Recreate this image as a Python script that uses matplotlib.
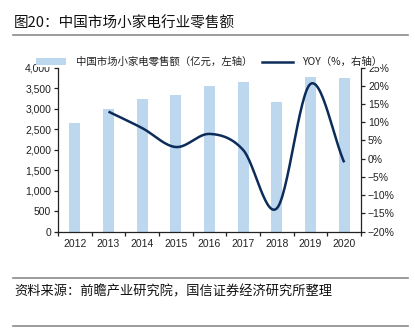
import matplotlib
matplotlib.use("Agg")
import matplotlib.pyplot as plt
import numpy as np
from matplotlib.lines import Line2D
from matplotlib.patches import Patch

years = ["2012", "2013", "2014", "2015", "2016", "2017", "2018", "2019", "2020"]
sales = [2640, 2980, 3230, 3330, 3550, 3640, 3150, 3780, 3740]
yoy = [None, 12.9, 8.4, 3.2, 6.8, 2.4, -13.6, 20.5, -1.0]
left_ticks = [0, 500, 1000, 1500, 2000, 2500, 3000, 3500, 4000]
left_labels = ["0", "500", "1,000", "1,500", "2,000", "2,500", "3,000", "3,500", "4,000"]
right_ticks = [-20, -15, -10, -5, 0, 5, 10, 15, 20, 25]
right_labels = ["\u221220%", "\u221215%", "\u221210%", "\u22125%", "0%", "5%", "10%", "15%", "20%", "25%"]

title = "图20：中国市场小家电行业零售额"
source = "资料来源：前瞻产业研究院，国信证券经济研究所整理"
bar_label = "中国市场小家电零售额（亿元，左轴）"
line_label = "YOY（%，右轴）"

CJK = ["Noto Sans CJK SC", "DejaVu Sans"]
NUM = ["Liberation Sans", "DejaVu Sans"]
bar_color = "#BDD7EE"
line_color = "#0C2C5A"
ink = "#222222"

W, H = 415, 335
fig = plt.figure(figsize=(W / 100, H / 100), dpi=100)

def fx(px):
    return px / W

def fy(py):
    return 1 - py / H

ax = fig.add_axes([fx(58), fy(231.7), fx(361) - fx(58), fy(67.5) - fy(231.7)])
ax2 = ax.twinx()

x = np.arange(len(years))
ax.bar(x, sales, width=0.33, color=bar_color, zorder=1)
ax.set_xlim(-0.5, len(years) - 0.5)
ax.set_ylim(0, 4000)

# smooth line (Catmull-Rom through data points)
pts_x = np.array([i for i, v in enumerate(yoy) if v is not None], dtype=float)
pts_y = np.array([v for v in yoy if v is not None], dtype=float)
P = np.column_stack([pts_x, pts_y])
Pext = np.vstack([2 * P[0] - P[1], P, 2 * P[-1] - P[-2]])
curve = []
t = np.linspace(0, 1, 30)[:, None]
for i in range(1, len(Pext) - 2):
    p0, p1, p2, p3 = Pext[i - 1], Pext[i], Pext[i + 1], Pext[i + 2]
    c1 = p1 + (p2 - p0) / 6
    c2 = p2 - (p3 - p1) / 6
    seg = ((1 - t) ** 3) * p1 + 3 * ((1 - t) ** 2) * t * c1 + 3 * (1 - t) * t ** 2 * c2 + t ** 3 * p2
    curve.append(seg if i == 1 else seg[1:])
curve = np.vstack(curve)
ax2.plot(curve[:, 0], curve[:, 1], color=line_color, lw=1.8, zorder=3, solid_capstyle="butt")
ax2.set_ylim(-20, 25)

ax.set_zorder(ax2.get_zorder() - 1)
ax.patch.set_visible(False)

for a in (ax, ax2):
    a.spines["top"].set_visible(False)
    for s in a.spines.values():
        s.set_color(ink)
        s.set_linewidth(0.9)
ax.spines["right"].set_visible(False)
ax2.spines["left"].set_visible(False)
ax2.spines["bottom"].set_visible(False)

ax.set_xticks(np.arange(-0.5, len(years), 1.0))
ax.set_xticklabels([])
ax.set_xticks(x, minor=True)
ax.set_xticklabels(years, minor=True, fontsize=7.5, family=NUM, color=ink)
ax.tick_params(axis="x", which="major", direction="out", length=3, width=0.9, color=ink)
ax.tick_params(axis="x", which="minor", length=0, pad=5)

ax.set_yticks(left_ticks)
ax.set_yticklabels(left_labels, fontsize=7.5, family=NUM, color=ink)
ax.tick_params(axis="y", direction="out", length=3, width=0.9, color=ink, pad=2)
ax2.set_yticks(right_ticks)
ax2.set_yticklabels(right_labels, fontsize=7.5, family=NUM, color=ink)
ax2.tick_params(axis="y", direction="out", length=3, width=0.9, color=ink, pad=2)

handles = [Patch(facecolor=bar_color, edgecolor="none"),
           Line2D([0], [0], color=line_color, lw=1.8)]
leg = fig.legend(handles, [bar_label, line_label], loc="center left",
                 bbox_to_anchor=(fx(36), fy(62)), ncol=2, frameon=True,
                 prop={"family": CJK, "size": 7.5}, handlelength=2.9,
                 handleheight=0.6, handletextpad=0.9, columnspacing=1.0,
                 borderpad=0.0, borderaxespad=0)
leg.get_frame().set_facecolor("white")
leg.get_frame().set_edgecolor("none")
leg.get_frame().set_alpha(1)
for txt in leg.get_texts():
    txt.set_color(ink)

fig.text(fx(14), fy(23), title, fontsize=10.5, family=CJK, color="#111111", va="center", ha="left")
fig.text(fx(14), fy(291.7), source, fontsize=9.5, family=CJK, color="#111111", va="center", ha="left")
for yy in (35, 278, 325.7):
    fig.add_artist(Line2D([fx(13), fx(408)], [fy(yy), fy(yy)], color="#8A8A8A", lw=1.2,
                          transform=fig.transFigure))

fig.savefig("out.png", dpi=100, facecolor="white")
